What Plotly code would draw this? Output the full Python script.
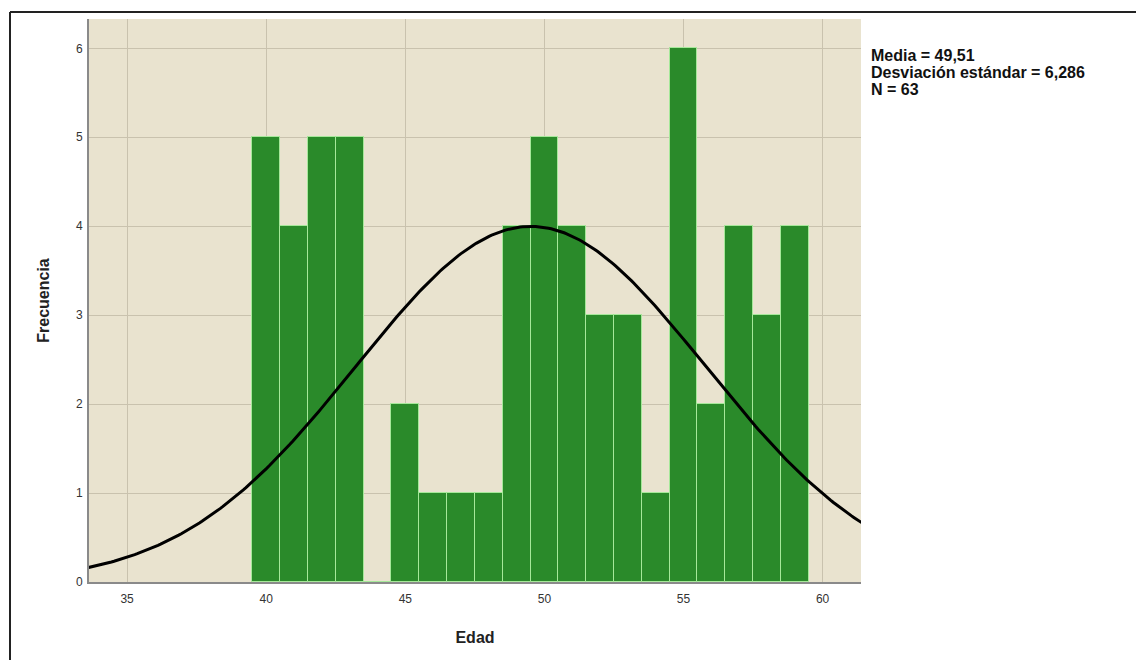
import numpy as np
import plotly.graph_objects as go

edad = [40, 41, 42, 43, 44, 45, 46, 47, 48, 49, 50, 51, 52, 53, 54, 55, 56, 57, 58, 59]
frecuencia = [5, 4, 5, 5, 0, 2, 1, 1, 1, 4, 5, 4, 3, 3, 1, 6, 2, 4, 3, 4]
media = 49.51
desv = 6.286
n = 63
stats_lines = ["Media = 49,51", "Desviación estándar = 6,286", "N = 63"]

xs = np.linspace(33.6, 61.4, 300)
ys = n * 1.0 / (desv * np.sqrt(2 * np.pi)) * np.exp(-0.5 * ((xs - media) / desv) ** 2)

fig = go.Figure()
fig.add_trace(go.Bar(
    x=edad, y=frecuencia, width=1.0,
    marker=dict(color="#2a8a2a", line=dict(color="#a6e89a", width=1)),
    showlegend=False, hoverinfo="x+y"))
fig.add_trace(go.Scatter(x=xs, y=ys, mode="lines",
                         line=dict(color="black", width=3), showlegend=False))

fig.update_layout(
    width=1136, height=660,
    margin=dict(l=89, r=275, t=19, b=78),
    paper_bgcolor="white", plot_bgcolor="#e9e3cf",
    bargap=0,
    font=dict(family="Liberation Sans, Arial", color="#333"),
    xaxis=dict(range=[33.63, 61.38], tickvals=[35, 40, 45, 50, 55, 60],
               showgrid=True, gridcolor="#c9c2ae", gridwidth=1,
               showline=True, linecolor="#8a8a8a", linewidth=2,
               zeroline=False, ticks="", tickfont=dict(size=12, color="#333"),
               ticklabelstandoff=5,
               title=dict(text="<b>Edad</b>", font=dict(size=16, color="#222"), standoff=26)),
    yaxis=dict(range=[0, 6.33], tickvals=[0, 1, 2, 3, 4, 5, 6],
               showgrid=True, gridcolor="#c9c2ae", gridwidth=1,
               showline=True, linecolor="#8a8a8a", linewidth=2,
               zeroline=False, ticks="", tickfont=dict(size=12, color="#333"),
               ticklabelstandoff=2,
               title=dict(text="<b>Frecuencia</b>", font=dict(size=16, color="#222"), standoff=22)),
)

for i, t in enumerate(stats_lines):
    fig.add_annotation(text="<b>" + t + "</b>", xref="paper", yref="paper",
                       x=1.0, xshift=8, y=1.0, yshift=-26 - 17 * i,
                       xanchor="left", yanchor="top", showarrow=False,
                       font=dict(family="Liberation Sans, Arial", size=16, color="#111"))

# outer frame (top and left edges visible)
fig.add_shape(type="line", xref="paper", yref="paper",
              x0=-79 / 772, x1=1.0 + 275 / 772, y0=1.0 + 7 / 563, y1=1.0 + 7 / 563,
              line=dict(color="#222", width=2))
fig.add_shape(type="line", xref="paper", yref="paper",
              x0=-79 / 772, x1=-79 / 772, y0=1.0 + 7 / 563, y1=-78 / 563,
              line=dict(color="#222", width=2))

fig.write_html("out.html")
